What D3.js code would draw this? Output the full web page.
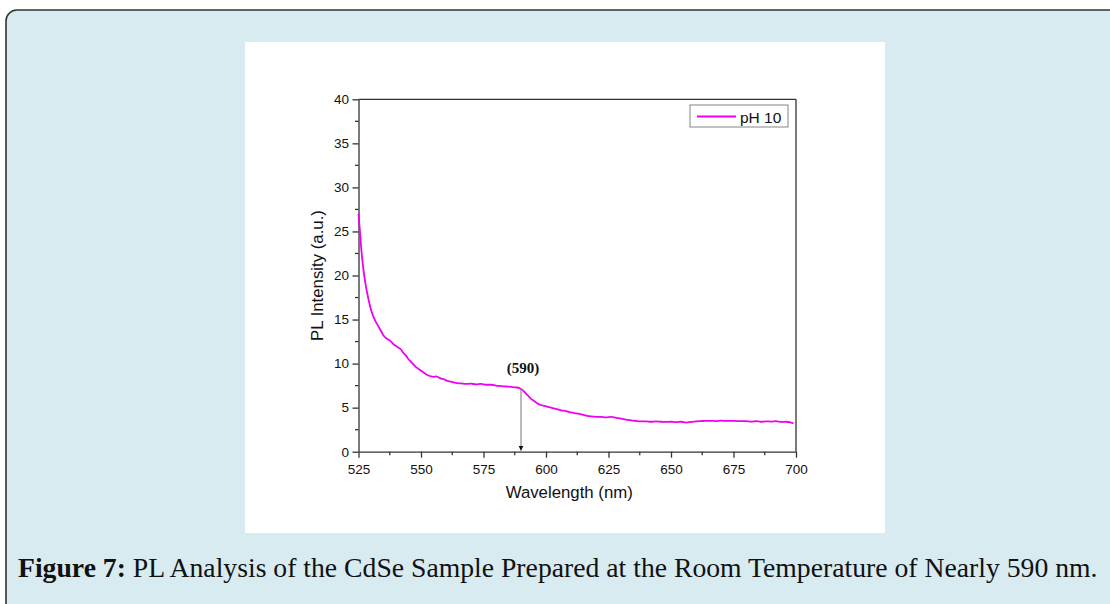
<!DOCTYPE html>
<html><head><meta charset="utf-8">
<script src="https://cdn.jsdelivr.net/npm/d3@7"></script>
<style>html,body{margin:0;padding:0;background:#fff;}svg{display:block;}</style>
</head><body>
<svg id="c" width="1110" height="604"></svg>
<script>
const wavelength = [525,525.5,526,527,528,529,530,531,532,533,534,535,536,537,538,539,540,541,542,543,544,545,546,547,548,549,550,551,552,553,554,555,556,557,558,559,560,562,564,566,568,570,572,574,576,578,580,582,584,586,588,589.5,591,592,593,594,595,596,597,598,600,602,604,606,608,610,612,614,616,618,620,622,624,626,628,630,632,634,636,638,640,642,644,646,648,650,652,654,656,658,660,662,664,666,668,670,672,674,676,678,680,682,684,686,688,690,692,694,696,698,699];
const intensity = [27.0,25.3,23.4,20.6,18.7,17.3,16.1,15.3,14.7,14.2,13.7,13.2,12.9,12.7,12.5,12.2,12.0,11.8,11.6,11.2,10.9,10.5,10.2,9.9,9.6,9.4,9.2,9.0,8.8,8.65,8.55,8.5,8.55,8.45,8.3,8.25,8.1,7.95,7.8,7.75,7.7,7.72,7.65,7.7,7.6,7.6,7.5,7.45,7.4,7.35,7.3,7.2,6.9,6.6,6.3,6.0,5.8,5.6,5.4,5.3,5.15,5.0,4.85,4.7,4.6,4.45,4.35,4.25,4.1,4.0,3.95,3.95,3.9,3.95,3.85,3.75,3.65,3.55,3.5,3.45,3.45,3.4,3.45,3.4,3.38,3.4,3.35,3.4,3.3,3.38,3.45,3.48,3.5,3.5,3.48,3.52,3.5,3.5,3.48,3.46,3.48,3.42,3.46,3.4,3.45,3.42,3.46,3.38,3.4,3.3,3.22];
const xTicks = [525,550,575,600,625,650,675,700];
const yTicks = [0,5,10,15,20,25,30,35,40];
const seriesName = "pH 10";
const peakLabel = "(590)";
const peakWavelength = 590;
const peakIntensity = 7.2;
const xTitle = "Wavelength (nm)";
const yTitle = "PL Intensity (a.u.)";
const captionBold = "Figure 7:";
const captionText = " PL Analysis of the CdSe Sample Prepared at the Room Temperature of Nearly 590 nm.";

const svg = d3.select("#c");
svg.append("rect").attr("x",6).attr("y",10).attr("width",1130).attr("height",620)
  .attr("rx",11).attr("fill","#d7ebf1").attr("stroke","#333").attr("stroke-width",1.6);
svg.append("rect").attr("x",245).attr("y",42).attr("width",640).attr("height",491).attr("fill","#fff");

const L=358.5, R=796, T=99.3, B=451.7;
const x = d3.scaleLinear().domain([525,700]).range([L,R]);
const y = d3.scaleLinear().domain([0,40]).range([B,T]);

const g = svg.append("g");
const font = "'Liberation Sans', Arial, sans-serif";

g.append("line").attr("x1",L).attr("x2",R).attr("y1",T).attr("y2",T).attr("stroke","#333").attr("stroke-width",1.3);
g.append("line").attr("x1",R).attr("x2",R).attr("y1",T).attr("y2",B).attr("stroke","#333").attr("stroke-width",1.3);

const xAxis = d3.axisBottom(x).tickValues(xTicks).tickSize(6).tickSizeOuter(0).tickPadding(7);
const gx = g.append("g").attr("transform",`translate(0,${B})`).call(xAxis);
const xMinor = xTicks.slice(0,-1).map(v=>v+12.5);
gx.selectAll(".minor").data(xMinor).enter().append("line").attr("class","minor")
  .attr("x1",d=>x(d)).attr("x2",d=>x(d)).attr("y1",0).attr("y2",3.5).attr("stroke","#333");
const yAxis = d3.axisLeft(y).tickValues(yTicks).tickSize(6).tickSizeOuter(0).tickPadding(3.5);
const gy = g.append("g").attr("transform",`translate(${L},0)`).call(yAxis);
const yMinor = yTicks.slice(0,-1).map(v=>v+2.5);
gy.selectAll(".minor").data(yMinor).enter().append("line").attr("class","minor")
  .attr("x1",0).attr("x2",-3.5).attr("y1",d=>y(d)).attr("y2",d=>y(d)).attr("stroke","#333");
[gx,gy].forEach(a=>{
  a.selectAll("path,line").attr("stroke","#333").attr("stroke-width",1.3);
  a.selectAll("text").attr("font-family",font).attr("font-size",13.5).attr("fill","#111");
});

g.append("text").attr("x",(L+R)/2 - 8).attr("y",498).attr("text-anchor","middle")
  .attr("font-family",font).attr("font-size",16.8).attr("fill","#111").text(xTitle);
g.append("text").attr("transform",`translate(323,${(T+B)/2}) rotate(-90)`).attr("text-anchor","middle")
  .attr("font-family",font).attr("font-size",16.8).attr("fill","#111").text(yTitle);

const pts = wavelength.map((w,i)=>[w,intensity[i]]);
g.append("path").datum(pts).attr("fill","none").attr("stroke","#f000f0").attr("stroke-width",1.8)
  .attr("stroke-linejoin","round")
  .attr("d",d3.line().curve(d3.curveMonotoneX).x(d=>x(d[0])).y(d=>y(d[1])));

const defs = svg.append("defs");
defs.append("marker").attr("id","ah").attr("viewBox","0 0 10 10").attr("refX",10).attr("refY",5)
  .attr("markerWidth",5).attr("markerHeight",9).attr("orient","auto").attr("markerUnits","userSpaceOnUse")
  .append("path").attr("d","M0,0 L10,5 L0,10 z").attr("fill","#111");
g.append("line").attr("x1",x(peakWavelength)).attr("x2",x(peakWavelength))
  .attr("y1",y(peakIntensity)).attr("y2",y(0)-1).attr("stroke","#777").attr("stroke-width",1)
  .attr("marker-end","url(#ah)");
g.append("text").attr("x",x(peakWavelength)+2).attr("y",373).attr("text-anchor","middle")
  .attr("font-family","'Liberation Serif', 'Times New Roman', serif").attr("font-weight","bold")
  .attr("font-size",15).attr("fill","#111").text(peakLabel);

g.append("rect").attr("x",690).attr("y",105).attr("width",98).attr("height",22)
  .attr("fill","#fff").attr("stroke","#666").attr("stroke-width",0.8);
g.append("line").attr("x1",697).attr("x2",736).attr("y1",116.5).attr("y2",116.5).attr("stroke","#f000f0").attr("stroke-width",1.8);
g.append("text").attr("x",740).attr("y",122.5).attr("font-family",font).attr("font-size",15.5).attr("fill","#111").text(seriesName);

const cap = svg.append("text").attr("x",18).attr("y",577)
  .attr("font-family","'Liberation Serif', 'DejaVu Serif', serif").attr("font-size",21).attr("fill","#111");
cap.append("tspan").attr("font-weight","bold").text(captionBold);
cap.append("tspan").text(captionText);
const w = cap.node().getComputedTextLength();
cap.attr("font-size", 21*1080/w);
</script>
</body></html>
